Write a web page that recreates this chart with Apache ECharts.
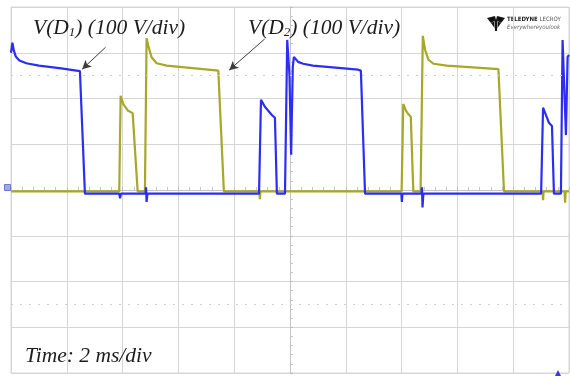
<!DOCTYPE html>
<html>
<head>
<meta charset="utf-8">
<script src="https://cdn.jsdelivr.net/npm/echarts@6/dist/echarts.min.js"></script>
<style>
  html, body { margin: 0; padding: 0; background: #ffffff; }
  #chart { width: 570px; height: 376px; }
</style>
</head>
<body>
<div id="chart"></div>
<script>
// Horizontal scale: 10 divisions of 2 ms; vertical scale: 8 divisions of 100 V.
const timeTicks = [0, 2, 4, 6, 8, 10, 12, 14, 16, 18, 20];      // ms
const voltTicks = [-400, -300, -200, -100, 0, 100, 200, 300, 400]; // V

// Diode D1 voltage, [time ms, volts]
const vD1 = [
  [0, 300], [0.05, 322], [0.1, 305], [0.17, 292], [0.3, 283], [0.55, 277],
  [1.0, 272], [1.8, 266], [2.47, 260], [2.65, -8],
  [3.88, -8], [3.91, -18], [3.94, -8],
  [4.82, -8], [4.84, 6], [4.86, -26], [4.89, -8],
  [8.89, -8], [8.96, 197], [9.10, 182], [9.35, 164], [9.46, 158], [9.53, -8],
  [9.82, -8], [9.90, 328], [9.98, 252], [10.04, 77], [10.10, 269], [10.14, 291],
  [10.29, 280], [10.47, 276], [10.82, 272], [12.44, 263], [12.54, 261], [12.69, -8],
  [13.99, -8], [14.01, -26], [14.03, -8],
  [14.71, -8], [14.73, 6], [14.75, -38], [14.78, -8],
  [19.0, -8], [19.07, 180], [19.21, 158], [19.28, 147], [19.39, 140], [19.46, -8],
  [19.71, -8], [19.77, 328], [19.89, 120], [19.95, 291], [20, 295]
];

// Diode D2 voltage, [time ms, volts]
const vD2 = [
  [0, -3], [3.88, -3], [3.93, 206], [4.03, 187], [4.20, 173], [4.36, 168], [4.38, 166], [4.54, -3],
  [4.80, -3], [4.86, 332], [4.92, 315], [5.04, 290], [5.22, 277], [5.58, 272],
  [7.43, 261], [7.49, 259], [7.63, -3],
  [8.90, -3], [8.92, -20], [8.94, -3],
  [14.00, -3], [14.06, 188], [14.16, 173], [14.24, 166], [14.33, 160], [14.42, -3],
  [14.68, -3], [14.76, 337], [14.84, 307], [14.96, 285], [15.14, 276], [15.62, 272],
  [17.47, 264], [17.53, 262], [17.67, -3],
  [19.05, -3], [19.07, -22], [19.09, -3],
  [19.84, -3], [19.86, -28], [19.88, -3], [20, -3]
];

// Pointer arrows from the trace captions to the traces, [time ms, volts]
const arrowD1 = [[3.39, 312], [2.55, 264]];
const arrowD2 = [[9.09, 330], [7.82, 262]];

// Dotted guide levels
const guideLevels = [250, -250];

const gridColor = '#d6d6d6';
const blue = '#2d2df2';
const olive = '#a7a72a';
const serif = '"Liberation Serif", "DejaVu Serif", serif';

const chart = echarts.init(document.getElementById('chart'), null, { renderer: 'canvas' });

const hiddenLabels = { show: false };
const subStyle = { fontSize: 13, fontStyle: 'italic', fontFamily: serif, fill: '#1c1c1c', padding: [10, 0, 0, 0] };

chart.setOption({
  animation: false,
  backgroundColor: '#ffffff',
  grid: { left: 11, top: 7, width: 558, height: 366, show: true, borderColor: gridColor, borderWidth: 1 },
  xAxis: {
    type: 'value',
    min: timeTicks[0], max: timeTicks[timeTicks.length - 1], interval: 2,
    axisLine: { show: true, onZero: true, lineStyle: { color: '#c4c4c4' } },
    axisTick: { show: true, inside: true, length: 3, lineStyle: { color: '#bdbdbd' } },
    minorTick: { show: true, splitNumber: 5, length: 3, lineStyle: { color: '#c6c6c6' } },
    axisLabel: hiddenLabels,
    splitLine: { show: true, lineStyle: { color: gridColor, width: 1 } }
  },
  yAxis: [
    {
      type: 'value',
      min: voltTicks[0], max: voltTicks[voltTicks.length - 1], interval: 100,
      axisLine: { show: false },
      axisTick: { show: false },
      axisLabel: hiddenLabels,
      splitLine: { show: true, lineStyle: { color: gridColor, width: 1 } }
    },
    {
      // centre graticule axis with division ticks
      type: 'value',
      position: 'left', offset: -279,
      min: voltTicks[0], max: voltTicks[voltTicks.length - 1], interval: 100,
      axisLine: { show: true, lineStyle: { color: '#c4c4c4' } },
      axisTick: { show: true, inside: true, length: 3, lineStyle: { color: '#bdbdbd' } },
      minorTick: { show: true, splitNumber: 5, length: 3, lineStyle: { color: '#c6c6c6' } },
      axisLabel: hiddenLabels,
      splitLine: { show: false }
    }
  ],
  series: [
    {
      name: 'V(D2)', type: 'line', data: vD2, showSymbol: false, z: 3,
      lineStyle: { color: olive, width: 2.2 },
      markLine: {
        silent: true, symbol: 'none', label: { show: false },
        lineStyle: { color: '#cfcfcf', type: [2, 7], width: 1 },
        data: guideLevels.map(v => ({ yAxis: v }))
      }
    },
    {
      name: 'V(D1)', type: 'line', data: vD1, showSymbol: false, z: 4,
      lineStyle: { color: blue, width: 2.2 },
      markLine: {
        silent: true, symbol: ['none', 'arrow'], symbolSize: [7, 9], label: { show: false },
        lineStyle: { color: '#3c3c3c', type: 'solid', width: 1 },
        data: [
          [{ coord: arrowD1[0] }, { coord: arrowD1[1] }],
          [{ coord: arrowD2[0] }, { coord: arrowD2[1] }]
        ]
      }
    }
  ],
  graphic: [
    {
      type: 'text', left: 33, top: 17, z: 10,
      style: { text: 'V(D{s|1}) (100 V/div)', font: 'italic 21.5px ' + serif, fill: '#1c1c1c', rich: { s: subStyle } }
    },
    {
      type: 'text', left: 248, top: 17, z: 10,
      style: { text: 'V(D{s|2}) (100 V/div)', font: 'italic 21.5px ' + serif, fill: '#1c1c1c', rich: { s: subStyle } }
    },
    {
      type: 'text', left: 25, top: 345, z: 10,
      style: { text: 'Time: 2 ms/div', font: 'italic 21.5px ' + serif, fill: '#1c1c1c' }
    },
    // Teledyne LeCroy mark
    {
      type: 'group', left: 487, top: 16, z: 10,
      children: [
        { type: 'polygon', shape: { points: [[0, 2], [8, 0], [9, 4], [4, 7]] }, style: { fill: '#111' } },
        { type: 'polygon', shape: { points: [[18, 2], [10, 0], [9, 4], [14, 7]] }, style: { fill: '#111' } },
        { type: 'polygon', shape: { points: [[7.5, 4], [10.5, 4], [10, 15], [8, 15]] }, style: { fill: '#111' } },
        { type: 'polygon', shape: { points: [[4, 7], [7, 5.5], [7.5, 12]] }, style: { fill: '#111' } },
        { type: 'polygon', shape: { points: [[14, 7], [11, 5.5], [10.5, 12]] }, style: { fill: '#111' } },
        {
          type: 'text', left: 20, top: 0,
          style: { text: 'TELEDYNE {l|LECROY}', font: 'bold 6px "DejaVu Sans Condensed", "Liberation Sans Narrow", sans-serif', fill: '#222',
                   rich: { l: { fontSize: 6, fontWeight: 'normal', fontFamily: '"DejaVu Sans Condensed", sans-serif', fill: '#555' } } }
        },
        {
          type: 'text', left: 20, top: 8,
          style: { text: 'Everywhereyoulook', font: 'italic 6px "DejaVu Sans Condensed", sans-serif', fill: '#666' }
        }
      ]
    },
    // ground reference marker
    { type: 'rect', left: 4, top: 184, shape: { width: 6, height: 6 }, style: { fill: '#9fa8e8', stroke: '#6d78c8', lineWidth: 1 }, z: 10 },
    // trigger marker
    { type: 'polygon', shape: { points: [[555, 376], [558, 370], [561, 376]] }, style: { fill: '#3a3ae0' }, z: 10 }
  ]
});
</script>
</body>
</html>
